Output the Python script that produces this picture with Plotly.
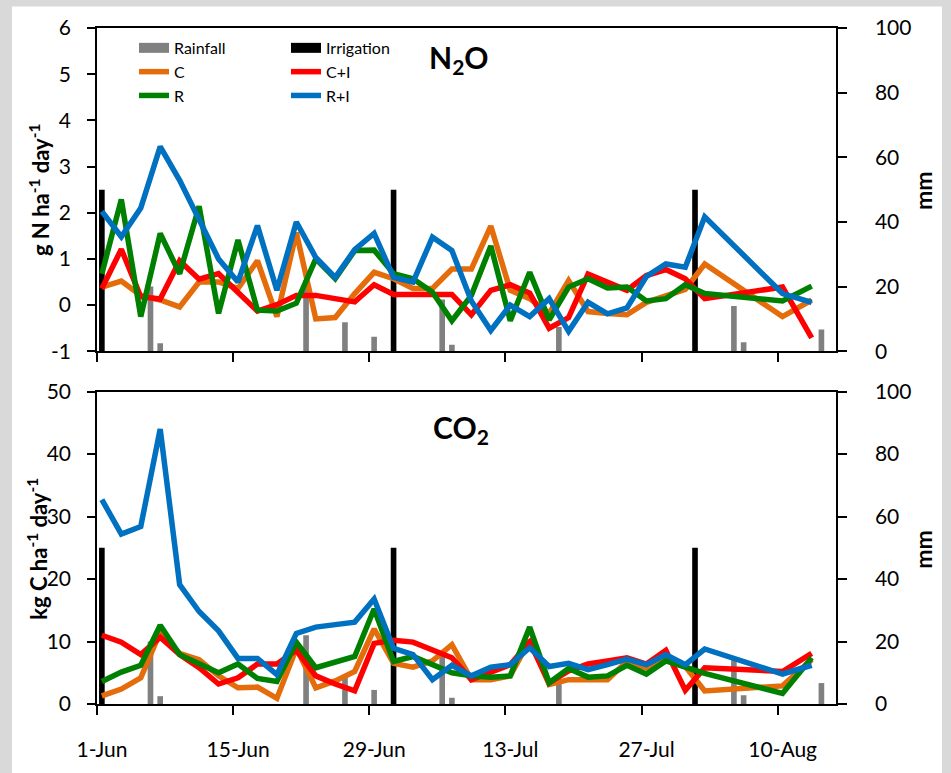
import plotly.graph_objects as go
import pandas as pd

# ---------------- data ----------------
sample_dates = [
    "2014-06-01", "2014-06-03", "2014-06-05", "2014-06-07", "2014-06-09", "2014-06-11",
    "2014-06-13", "2014-06-15", "2014-06-17", "2014-06-19", "2014-06-21", "2014-06-23",
    "2014-06-25", "2014-06-27", "2014-06-29", "2014-07-01", "2014-07-03", "2014-07-05",
    "2014-07-07", "2014-07-09", "2014-07-11", "2014-07-13", "2014-07-15", "2014-07-17",
    "2014-07-19", "2014-07-21", "2014-07-23", "2014-07-25", "2014-07-27", "2014-07-29",
    "2014-07-31", "2014-08-02", "2014-08-10", "2014-08-13",
]

n2o_C = [0.39, 0.52, 0.21, 0.11, -0.04, 0.50, 0.50, 0.36, 0.96, -0.25, 1.57, -0.30,
         -0.27, 0.25, 0.71, 0.57, 0.36, 0.36, 0.78, 0.78, 1.71, 0.32, 0.14, -0.18,
         0.53, -0.14, -0.18, -0.21, 0.06, 0.21, 0.34, 0.89, -0.25, 0.11]
n2o_CI = [0.36, 1.21, 0.18, 0.13, 0.96, 0.56, 0.68, 0.27, -0.13, 0.01, 0.21, 0.21,
          0.14, 0.07, 0.44, 0.23, 0.23, 0.23, 0.23, -0.21, 0.32, 0.44, 0.26, -0.50,
          -0.27, 0.67, 0.50, 0.32, 0.64, 0.77, 0.57, 0.14, 0.39, -0.71]
n2o_R = [0.68, 2.29, -0.25, 1.55, 0.68, 2.14, -0.18, 1.41, -0.11, -0.13, 0.04, 1.00,
         0.57, 1.18, 1.19, 0.68, 0.57, 0.28, -0.34, 0.21, 1.28, -0.34, 0.71, -0.32,
         0.39, 0.57, 0.37, 0.39, 0.09, 0.14, 0.44, 0.25, 0.09, 0.41]
n2o_RI = [2.03, 1.48, 2.10, 3.43, 2.70, 1.85, 1.00, 0.50, 1.72, 0.32, 1.80, 1.03,
          0.60, 1.20, 1.55, 0.60, 0.50, 1.47, 1.18, 0.09, -0.55, 0.00, -0.25, 0.14,
          -0.57, 0.06, -0.19, -0.06, 0.62, 0.89, 0.82, 1.91, 0.25, 0.06]

co2_C = [1.3, 2.4, 4.2, 11.5, 8.1, 7.1, 4.5, 2.6, 2.7, 0.9, 8.9, 2.6,
         3.7, 5.2, 12.0, 6.5, 5.9, 6.9, 9.5, 3.9, 3.9, 4.5, 10.2, 3.1,
         3.9, 3.9, 3.9, 6.8, 5.8, 7.1, 6.0, 2.1, 2.9, 7.1]
co2_CI = [11.0, 9.9, 7.9, 10.7, 7.9, 5.8, 3.2, 4.2, 6.4, 6.4, 8.6, 4.5,
          3.2, 2.1, 9.7, 10.2, 9.9, 8.6, 7.4, 3.9, 5.1, 6.3, 9.9, 3.4,
          5.3, 6.4, 6.9, 7.4, 6.4, 8.6, 2.2, 5.8, 5.2, 8.1]
co2_R = [3.6, 5.1, 6.2, 12.6, 7.9, 6.4, 5.0, 6.4, 4.1, 3.6, 9.9, 5.8,
         6.7, 7.6, 15.2, 6.8, 7.6, 6.3, 5.0, 4.5, 4.3, 4.5, 12.3, 3.4,
         5.7, 4.3, 4.5, 6.2, 4.8, 6.9, 5.9, 4.9, 1.7, 7.4]
co2_RI = [32.7, 27.2, 28.4, 44.0, 19.1, 14.8, 11.7, 7.3, 7.3, 4.7, 11.3, 12.3,
          12.7, 13.1, 16.8, 8.9, 7.9, 3.9, 6.2, 4.5, 5.9, 6.3, 9.0, 6.0,
          6.5, 5.5, 6.3, 7.2, 6.3, 7.9, 6.3, 8.8, 4.8, 6.2]

rain_dates = ["2014-06-06", "2014-06-07", "2014-06-22", "2014-06-26", "2014-06-29",
              "2014-07-06", "2014-07-07", "2014-07-18", "2014-08-05", "2014-08-06",
              "2014-08-14"]
rain_mm = [20, 2.5, 22, 9, 4.5, 16, 2, 7.5, 14, 2.8, 6.7]

irr_dates = ["2014-06-01", "2014-07-01", "2014-08-01"]
irr_mm = [50, 50, 50]

x_tick_dates = ["2014-06-01", "2014-06-15", "2014-06-29", "2014-07-13", "2014-07-27", "2014-08-10"]
x_tick_labels = ["1-Jun", "15-Jun", "29-Jun", "13-Jul", "27-Jul", "10-Aug"]
n2o_ticks = [-1, 0, 1, 2, 3, 4, 5, 6]
n2o_tick_labels = ["-1", "0", "1", "2", "3", "4", "5", "6"]
co2_ticks = [0, 10, 20, 30, 40, 50]
mm_ticks = [0, 20, 40, 60, 80, 100]

series_names = ["C", "C+I", "R", "R+I"]
series_colors = ["#E46C0A", "#FF0000", "#008000", "#0070C0"]
rain_color = "#808080"
irr_color = "#000000"

# ---------------- figure ----------------
noon = pd.Timedelta(hours=12)
xs = pd.to_datetime(sample_dates) + noon
xr = pd.to_datetime(rain_dates) + noon
xi = pd.to_datetime(irr_dates) + noon
bar_w = 0.58 * 86400000

FONT = "Lato"
fig = go.Figure()

# legend-only entries for bars
fig.add_trace(go.Scatter(x=[None], y=[None], mode="lines", name="Rainfall",
                         line=dict(color=rain_color, width=13), legend="legend",
                         xaxis="x", yaxis="y"))
fig.add_trace(go.Scatter(x=[None], y=[None], mode="lines", name="Irrigation",
                         line=dict(color=irr_color, width=13), legend="legend2",
                         xaxis="x", yaxis="y"))

panels = [
    ("x", "y", "y2", [n2o_C, n2o_CI, n2o_R, n2o_RI], True),
    ("x2", "y3", "y4", [co2_C, co2_CI, co2_R, co2_RI], False),
]
for xa, ybar, yline, vals, show in panels:
    fig.add_trace(go.Bar(x=xr, y=rain_mm, width=bar_w, marker=dict(color=rain_color, line=dict(width=0)),
                         xaxis=xa, yaxis=ybar, showlegend=False, name="Rainfall"))
    fig.add_trace(go.Bar(x=xi, y=irr_mm, width=bar_w, marker=dict(color=irr_color, line=dict(width=0)),
                         xaxis=xa, yaxis=ybar, showlegend=False, name="Irrigation"))
    for i, (nm, col, v) in enumerate(zip(series_names, series_colors, vals)):
        fig.add_trace(go.Scatter(x=xs, y=v, mode="lines", name=nm,
                                 line=dict(color=col, width=5.5),
                                 xaxis=xa, yaxis=yline, showlegend=show,
                                 legend="legend" if i % 2 == 0 else "legend2"))

W, H = 951, 773
ml, mr, mt, mb = 97, 115, 28, 57
pw, ph = W - ml - mr, H - mt - mb
def py(p):  # pixel y -> paper
    return (H - mb - p) / ph
def px(p):  # pixel x -> paper
    return (p - ml) / pw

top_dom = [py(357), 1.0]
bot_dom = [0.0, py(398)]

tickfont = dict(family=FONT, size=21, color="black")
xcommon = dict(type="date", range=["2014-06-01", "2014-08-16"], tickvals=x_tick_dates,
               ticktext=x_tick_labels, ticks="outside", ticklen=9, tickwidth=1.5, tickcolor="black",
               showline=True, linecolor="black", linewidth=1.5, mirror=True,
               showgrid=False, zeroline=False, tickfont=tickfont)
ybar_common = dict(side="right", range=[0, 100], tickvals=mm_ticks, ticks="outside", ticklen=9,
                   tickwidth=1.5, tickcolor="black", showline=True, linecolor="black", linewidth=1.5,
                   showgrid=False, zeroline=False, tickfont=tickfont, ticklabelstandoff=24)
yline_common = dict(side="left", ticks="outside", ticklen=8, tickwidth=1.5, tickcolor="black",
                    showline=True, linecolor="black", linewidth=1.5, showgrid=False, zeroline=False,
                    tickfont=tickfont, ticklabelstandoff=12)

legfont = dict(family=FONT, size=16, color="black")
fig.update_layout(
    width=W, height=H,
    margin=dict(l=ml, r=mr, t=mt, b=mb),
    paper_bgcolor="#D9D9D9", plot_bgcolor="rgba(0,0,0,0)",
    font=dict(family=FONT, color="black"),
    barmode="overlay",
    xaxis=dict(domain=[0, 1], anchor="y", showticklabels=False, **xcommon),
    xaxis2=dict(domain=[0, 1], anchor="y3", showticklabels=True, ticklabelstandoff=17,
                ticklabelshift=5, **xcommon),
    yaxis=dict(domain=top_dom, anchor="x", **ybar_common),
    yaxis2=dict(overlaying="y", anchor="x", range=[-1, 6], tickvals=n2o_ticks,
                ticktext=n2o_tick_labels, **yline_common),
    yaxis3=dict(domain=bot_dom, anchor="x2", **ybar_common),
    yaxis4=dict(overlaying="y3", anchor="x2", range=[0, 50], tickvals=co2_ticks, **yline_common),
    legend=dict(x=px(134), y=py(31), xanchor="left", yanchor="top", bgcolor="rgba(0,0,0,0)",
                font=legfont, tracegroupgap=0),
    legend2=dict(x=px(286), y=py(31), xanchor="left", yanchor="top", bgcolor="rgba(0,0,0,0)",
                 font=legfont, tracegroupgap=0),
    shapes=[dict(type="rect", xref="paper", yref="paper", x0=px(12), x1=px(942), y0=py(800), y1=py(6),
                 fillcolor="white", line=dict(width=0), layer="below")],
    annotations=[
        dict(text="<b>N<sub>2</sub>O</b>", x=px(459), y=py(60), xref="paper", yref="paper",
             showarrow=False, font=dict(family=FONT, size=30), xanchor="center", yanchor="middle"),
        dict(text="<b>CO<sub>2</sub></b>", x=px(461), y=py(436), xref="paper", yref="paper",
             showarrow=False, font=dict(family=FONT, size=30), xanchor="center", yanchor="middle"),
        dict(text="<b>g N ha<sup>-1</sup> day<sup>-1</sup></b>", x=px(39), y=py(193), xref="paper",
             yref="paper", showarrow=False, textangle=-90, font=dict(family=FONT, size=22),
             xanchor="center", yanchor="middle"),
        dict(text="<b>kg C ha<sup>-1</sup> day<sup>-1</sup></b>", x=px(38), y=py(558), xref="paper",
             yref="paper", showarrow=False, textangle=-90, font=dict(family=FONT, size=22),
             xanchor="center", yanchor="middle"),
        dict(text="<b>mm</b>", x=px(923), y=py(193), xref="paper", yref="paper", showarrow=False,
             textangle=-90, font=dict(family=FONT, size=23), xanchor="center", yanchor="middle"),
        dict(text="<b>mm</b>", x=px(923), y=py(558), xref="paper", yref="paper", showarrow=False,
             textangle=-90, font=dict(family=FONT, size=23), xanchor="center", yanchor="middle"),
    ],
)

fig.write_html("out.html", config={"displayModeBar": False},
               post_script=["document.body.style.margin='0px';"])
